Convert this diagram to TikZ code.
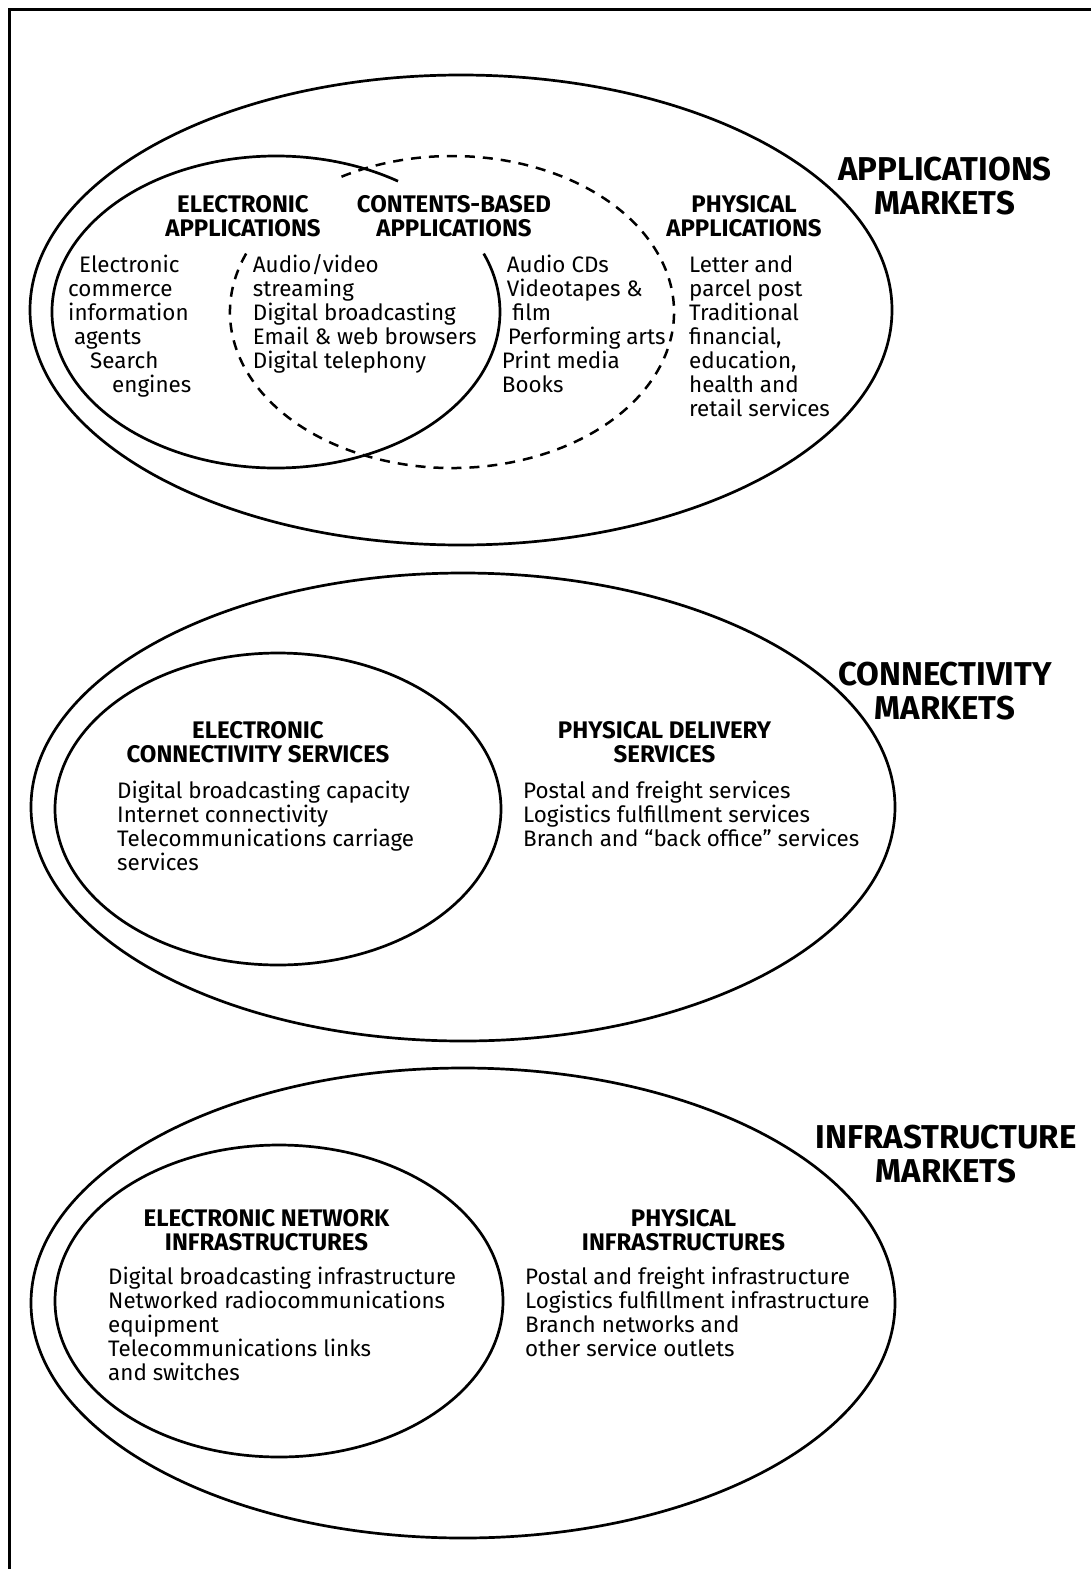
\documentclass[tikz,border=0pt]{standalone}
\usepackage{fontspec}
\setmainfont{Fira Sans}

\begin{document}
\begin{tikzpicture}[x=1pt, y=-1pt,
  ring/.style={line width=2.7pt},
  dashring/.style={line width=2.5pt, dash pattern=on 10pt off 8pt},
  heading/.style={inner sep=0pt, align=center, anchor=base,
    font=\fontsize{24}{24}\selectfont\bfseries},
  items/.style={inner sep=0pt, align=left, anchor=base west,
    font=\fontsize{22.4}{24}\selectfont},
  market/.style={inner sep=0pt, align=center, anchor=base,
    font=\fontsize{33}{33.5}\selectfont\bfseries}]

\useasboundingbox (0,0) rectangle (1091,1569);
% frame: top and left edge only
\draw[line width=3pt] (9,1569) -- (9,9) -- (1091,9);

% centres of the rings
\coordinate (apps) at (461,310);
\coordinate (eapp) at (276,312);
\coordinate (capp) at (452,312);
\coordinate (conn) at (463,807);
\coordinate (econn) at (278,809);
\coordinate (infra) at (463,1303);
\coordinate (einfra) at (279,1301);

% applications markets (nodes sit on the baseline of their last line)
\draw[ring] (apps) ellipse [x radius=431, y radius=235];
\draw[ring] ([shift={(-57:224 and 156)}]eapp)
  arc [start angle=-57, end angle=-382, x radius=224, y radius=156];
\draw[dashring] ([shift={(-158:222 and 156)}]capp)
  arc [start angle=-158, end angle=-481, x radius=222, y radius=156];

\node[market] (appmkt) at (945,214) {APPLICATIONS\\MARKETS};
\node[heading] (eapphd) at (243,236.7) {ELECTRONIC\\APPLICATIONS};
\node[heading] (capphd) at (454,236.7) {CONTENTS-BASED\\APPLICATIONS};
\node[heading] (papphd) at (744,236.7) {PHYSICAL\\APPLICATIONS};

\node[items] (eappls) at (68,392.7) {\hspace*{11pt}Electronic\\commerce\\information\\
  \hspace*{6pt}agents\\\hspace*{22pt}Search\\\hspace*{44pt}engines};
\node[items] (cappls) at (252.7,368.7) {Audio/video\\streaming\\Digital broadcasting\\
  Email \& web browsers\\Digital telephony};
\node[items] (mappls) at (501.7,392.7) {\hspace*{5pt}Audio CDs\\\hspace*{5pt}Videotapes \&\\
  \hspace*{10.5pt}film\\\hspace*{6pt}Performing arts\\Print media\\Books};
\node[items] (pappls) at (689,416.7) {Letter and\\parcel post\\Traditional\\financial,\\
  education,\\health and\\retail services};

% connectivity markets
\draw[ring] (conn) ellipse [x radius=432, y radius=234];
\draw[ring] (econn) ellipse [x radius=223, y radius=156];

\node[market] (connmkt) at (945,719) {CONNECTIVITY\\MARKETS};
\node[heading] (econnhd) at (258,762.7) {ELECTRONIC\\CONNECTIVITY SERVICES};
\node[heading] (pconnhd) at (664.5,762.7) {PHYSICAL DELIVERY\\SERVICES};
\node[items] (econnls) at (117,870.7) {Digital broadcasting capacity\\Internet connectivity\\
  Telecommunications carriage\\services};
\node[items] (pconnls) at (523,846.7) {Postal and freight services\\
  Logistics fulfillment services\\Branch and “back office” services};

% infrastructure markets
\draw[ring] (infra) ellipse [x radius=432, y radius=235];
\draw[ring] (einfra) ellipse [x radius=224, y radius=156];

\node[market] (inframkt) at (946,1182) {INFRASTRUCTURE\\MARKETS};
\node[heading] (einfrahd) at (266.5,1250.7) {ELECTRONIC NETWORK\\INFRASTRUCTURES};
\node[heading] (pinfrahd) at (683.5,1250.7) {PHYSICAL\\INFRASTRUCTURES};
\node[items] (einfrals) at (108,1380.7) {Digital broadcasting infrastructure\\
  Networked radiocommunications\\equipment\\Telecommunications links\\and switches};
\node[items] (pinfrals) at (525,1356.7) {Postal and freight infrastructure\\
  Logistics fulfillment infrastructure\\Branch networks and\\other service outlets};
\end{tikzpicture}
\end{document}
